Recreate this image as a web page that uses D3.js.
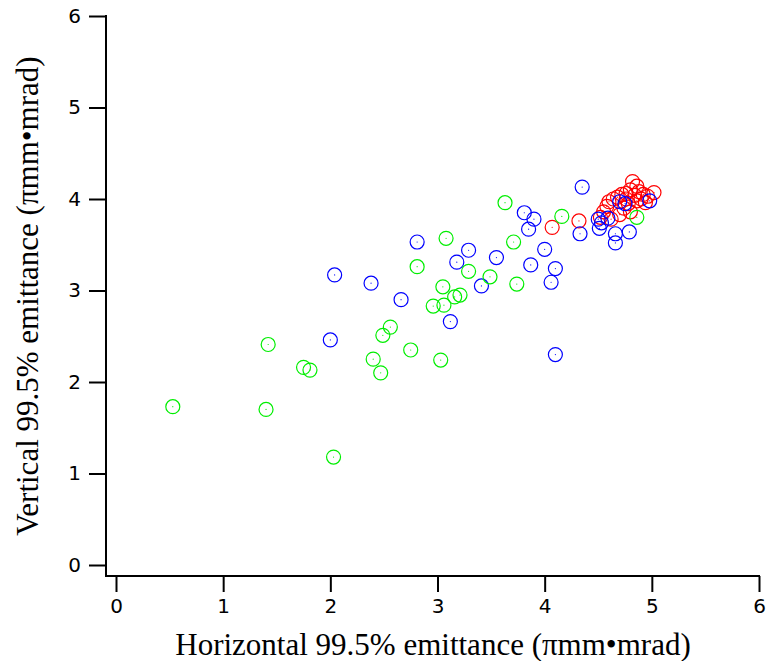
<!DOCTYPE html>
<html><head><meta charset="utf-8">
<script src="https://cdn.jsdelivr.net/npm/d3@7"></script>
<style>body{margin:0;background:#fff}svg{display:block}</style>
</head><body>
<script>
const xTicks = [0,1,2,3,4,5,6];
const yTicks = [0,1,2,3,4,5,6];
const xTitle = "Horizontal 99.5% emittance (\u03c0mm\u2022mrad)";
const yTitle = "Vertical 99.5% emittance (\u03c0mm\u2022mrad)";

const greenX = [0.53,1.40,1.42,1.75,1.81,2.03,2.40,2.47,2.49,2.56,2.75,2.81,2.96,3.03,3.05,3.06,3.08,3.16,3.21,3.29,3.49,3.63,3.71,3.74,4.16,4.86];
const greenY = [1.73,1.70,2.41,2.16,2.13,1.18,2.25,2.10,2.51,2.60,2.35,3.26,2.83,2.24,3.04,2.84,3.57,2.93,2.95,3.21,3.15,3.96,3.53,3.07,3.81,3.80];

const blueX = [2.00,2.04,2.38,2.66,2.81,3.12,3.18,3.29,3.41,3.55,3.81,3.90,3.85,3.87,4.00,4.10,4.06,4.10,4.35,4.33,4.50,4.53,4.51,4.59,4.66,4.66,4.79,4.70,4.98,4.75];
const blueY = [2.46,3.17,3.08,2.90,3.53,2.66,3.31,3.44,3.05,3.36,3.85,3.78,3.67,3.28,3.45,3.24,3.09,2.30,4.13,3.62,3.78,3.74,3.68,3.79,3.62,3.52,3.64,3.97,3.98,3.95];

const redX = [4.07,4.32,4.52,4.55,4.58,4.60,4.64,4.68,4.72,4.76,4.80,4.82,4.86,4.88,4.92,4.96,5.02,4.84,4.86,4.78,4.74,4.80,4.90,4.94,4.70,4.62,4.76];
const redY = [3.69,3.76,3.80,3.86,3.92,3.97,4.00,4.02,4.05,4.06,4.10,4.19,4.14,4.08,4.05,4.03,4.07,4.04,3.98,3.95,3.90,3.86,4.00,3.96,3.83,3.78,4.00];

const W = 767, H = 661;
const svg = d3.select("body").append("svg").attr("width", W).attr("height", H);

const x = d3.scaleLinear().domain([0,6]).range([116,759]);
const y = d3.scaleLinear().domain([0,6]).range([565,16]);

// axes
const xAxis = svg.append("g").attr("transform","translate(0,576)")
  .call(d3.axisBottom(x).tickValues(xTicks).tickFormat(d3.format("d")).tickSize(16).tickPadding(7).tickSizeOuter(0));
const yAxis = svg.append("g").attr("transform","translate(106,0)")
  .call(d3.axisLeft(y).tickValues(yTicks).tickFormat(d3.format("d")).tickSize(17).tickPadding(8).tickSizeOuter(0));
[xAxis,yAxis].forEach(g=>{
  g.select(".domain").remove();
  g.selectAll(".tick line").attr("stroke","#000").attr("stroke-width",2);
  g.selectAll(".tick text").attr("font-family","'DejaVu Sans', sans-serif").attr("font-size",20).attr("fill","#000");
});
svg.append("line").attr("x1",106).attr("x2",x(6)+1).attr("y1",576).attr("y2",576).attr("stroke","#000").attr("stroke-width",2);
svg.append("line").attr("x1",106).attr("x2",106).attr("y1",y(6)-1).attr("y2",577).attr("stroke","#000").attr("stroke-width",2);

svg.append("text").attr("x",433).attr("y",655).attr("text-anchor","middle")
  .attr("font-family","'Liberation Serif', serif").attr("font-size",31).text(xTitle);
svg.append("text").attr("transform","translate(38,296) rotate(-90)").attr("text-anchor","middle")
  .attr("font-family","'Liberation Serif', serif").attr("font-size",31).text(yTitle);

function series(xs, ys, color){
  const d = xs.map((v,i)=>[v,ys[i]]);
  const g = svg.append("g");
  g.selectAll("circle.ring").data(d).join("circle").attr("class","ring")
    .attr("cx",p=>x(p[0])).attr("cy",p=>y(p[1])).attr("r",7)
    .attr("fill","none").attr("stroke",color).attr("stroke-width",1.2);
  g.selectAll("circle.dot").data(d).join("circle").attr("class","dot")
    .attr("cx",p=>x(p[0])).attr("cy",p=>y(p[1])).attr("r",0.6)
    .attr("fill",color);
}
series(redX, redY, "#ff0000");
series(blueX, blueY, "#0000ff");
series(greenX, greenY, "#00ee00");
</script>
</body></html>
